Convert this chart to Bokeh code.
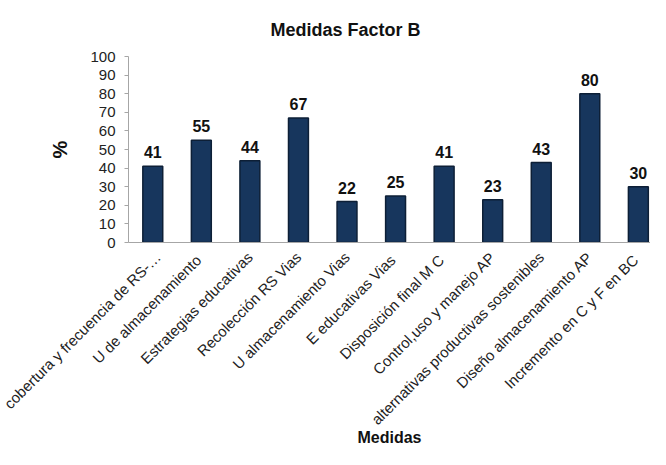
import math
from bokeh.plotting import figure
from bokeh.models import ColumnDataSource, FixedTicker
from bokeh.core.properties import value
from bokeh.embed import file_html
from bokeh.resources import INLINE

categories = [
    "cobertura y frecuencia de RS-…",
    "U  de almacenamiento",
    "Estrategias educativas",
    "Recolección RS Vias",
    "U almacenamiento Vias",
    "E educativas  Vias",
    "Disposición final  M C",
    "Control,uso y manejo AP",
    "alternativas productivas sostenibles",
    "Diseño almacenamiento AP",
    "Incremento en  C y F en BC",
]
values = [41, 55, 44, 67, 22, 25, 41, 23, 43, 80, 30]
y_ticks = [0, 10, 20, 30, 40, 50, 60, 70, 80, 90, 100]

FONT = "Liberation Sans"

positions = list(range(1, len(categories) + 1))
src = ColumnDataSource(dict(x=positions, top=values, label=[str(v) for v in values]))

p = figure(width=650, height=449, output_backend="svg", toolbar_location=None,
           x_range=(0.5, 11.25), y_range=(0, 100),
           min_border_left=128, min_border_right=0, min_border_top=55, min_border_bottom=207)
p.outline_line_color = None
p.xgrid.visible = False
p.ygrid.visible = False

p.vbar(x="x", top="top", bottom=0, width=0.41, source=src,
       fill_color="#17365d", line_color="#0d1f36", line_width=1.5)

p.text(x="x", y="top", text="label", source=src, y_offset=-8,
       text_align="center", text_baseline="bottom",
       text_font=value(FONT), text_font_size="16px", text_font_style="bold",
       text_color="#111111")

p.title.text = "Medidas Factor B"
p.title.align = "left"
p.title.offset = 142
p.title.standoff = 34
p.title.text_font = FONT
p.title.text_font_size = "18px"
p.title.text_font_style = "bold"
p.title.text_color = "#111111"

p.yaxis.ticker = FixedTicker(ticks=y_ticks)
p.yaxis.axis_line_color = "#a6a6a6"
p.yaxis.major_tick_line_color = "#a6a6a6"
p.yaxis.major_tick_out = 4
p.yaxis.major_tick_in = 0
p.yaxis.minor_tick_line_color = None
p.yaxis.major_label_standoff = 9
p.yaxis.major_label_text_font = FONT
p.yaxis.major_label_text_font_size = "15px"
p.yaxis.major_label_text_color = "#222222"
p.yaxis.axis_label = "%"
p.yaxis.axis_label_text_font = FONT
p.yaxis.axis_label_text_font_size = "20px"
p.yaxis.axis_label_text_font_style = "bold"
p.yaxis.axis_label_text_color = "#111111"
p.yaxis.axis_label_standoff = 16

p.xaxis.ticker = FixedTicker(ticks=positions)
p.xaxis.major_label_overrides = {pos: cat for pos, cat in zip(positions, categories)}
p.xaxis.major_label_orientation = math.pi / 4
p.xaxis.axis_line_color = "#a6a6a6"
p.xaxis.major_tick_line_color = None
p.xaxis.minor_tick_line_color = None
p.xaxis.major_label_standoff = 6
p.xaxis.major_label_text_font = FONT
p.xaxis.major_label_text_font_size = "15px"
p.xaxis.major_label_text_color = "#222222"
p.xaxis.axis_label = "Medidas"
p.xaxis.axis_label_text_font = FONT
p.xaxis.axis_label_text_font_size = "16px"
p.xaxis.axis_label_text_font_style = "bold"
p.xaxis.axis_label_text_color = "#111111"
p.xaxis.axis_label_standoff = -8

open("out.html", "w").write(file_html(p, INLINE))
